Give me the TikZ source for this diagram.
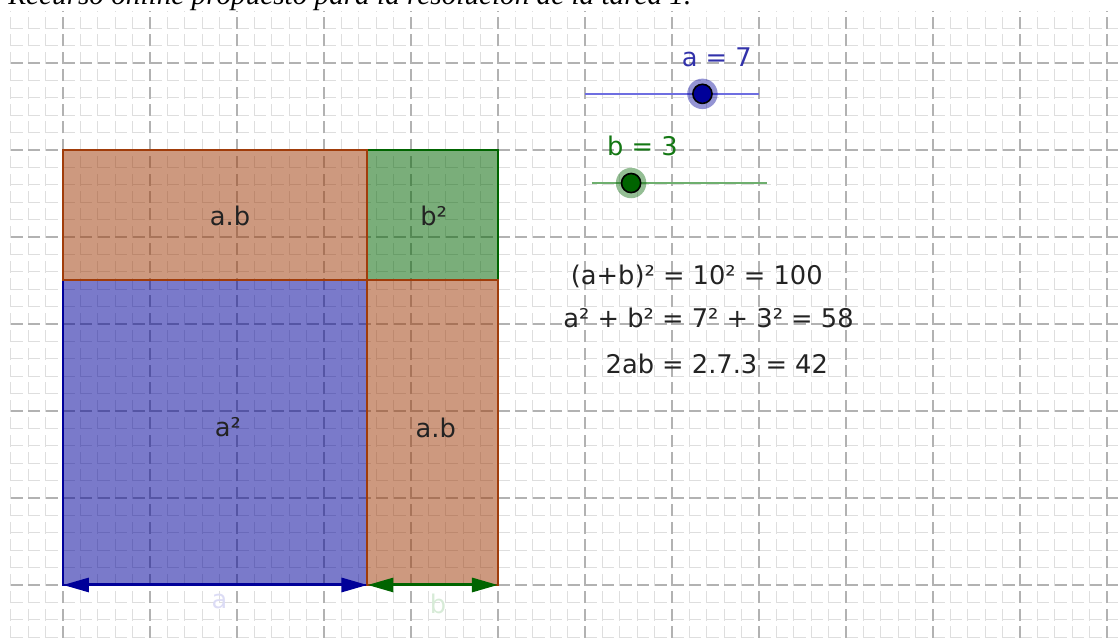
\documentclass[tikz,border=0pt]{standalone}
\usepackage{fontspec}
\setmainfont{DejaVu Sans}
\newfontfamily\capfont{Liberation Serif}
\usetikzlibrary{arrows.meta}

\definecolor{sqblue}{RGB}{0,0,153}
\definecolor{sqbrown}{RGB}{160,60,10}
\definecolor{sqgreen}{RGB}{0,100,0}
\definecolor{txtblue}{RGB}{50,50,170}
\definecolor{txtgreen}{RGB}{20,120,20}
\definecolor{txtgray}{RGB}{35,35,35}
\definecolor{slideblue}{RGB}{110,110,225}
\definecolor{slidegreen}{RGB}{110,175,110}
\definecolor{faintblue}{RGB}{220,220,245}
\definecolor{faintgreen}{RGB}{215,235,215}

\begin{document}
\begin{tikzpicture}[x=21.75pt,y=21.75pt,>={Triangle[length=13pt,width=7pt]},
  minorgrid/.style={black!13,line width=0.5pt,dash pattern=on 6pt off 2.7pt},
  majorgrid/.style={black!30,line width=0.6pt,dash pattern=on 6pt off 2.7pt},
  part/.style={line width=1pt,fill opacity=0.52},
  lbl/.style={font=\fontsize{12.85}{15}\selectfont,text=txtgray},
  knob/.style={fill=#1,draw=black,line width=0.8pt}]
  \useasboundingbox (-1.448,-1.218) rectangle (24.253,13.448);

  % grid
  \foreach \x in {-1.2,-0.8,...,24.1} \draw[minorgrid] (\x,-1.218) -- (\x,13.2);
  \foreach \y in {-1.2,-0.8,...,12.9} \draw[minorgrid] (-1.2,\y) -- (24.253,\y);
  \foreach \x in {0,2,...,24} \draw[majorgrid] (\x,-1.218) -- (\x,13.2);
  \foreach \y in {0,2,...,12} \draw[majorgrid] (-1.2,\y) -- (24.253,\y);

  \node[font=\fontsize{14.6}{17}\selectfont\capfont\itshape,anchor=base west,inner sep=0pt]
    (caption) at (-1.264,13.35) {Recurso online propuesto para la resolución de la tarea 1.};

  % the square (a+b)^2
  \coordinate (O) at (0,0);
  \coordinate (A) at (7,0);
  \coordinate (B) at (10,0);
  \draw[part,draw=sqblue,fill=sqblue] (0,0) rectangle (7,7);
  \draw[part,draw=sqgreen,fill=sqgreen] (7,7) rectangle (10,10);
  \draw[part,draw=sqbrown,fill=sqbrown] (0,7) rectangle (7,10);
  \draw[part,draw=sqbrown,fill=sqbrown] (7,0) rectangle (10,7);
  \draw[<->,line width=1.5pt,sqblue] (O) -- (A);
  \draw[<->,line width=1.5pt,sqgreen] (A) -- (B);

  \node[lbl] (abtop) at (3.84,8.48) {a.b};
  \node[lbl] (bsq) at (8.52,8.48) {b²};
  \node[lbl] (asq) at (3.79,3.62) {a²};
  \node[lbl] (abright) at (8.57,3.60) {a.b};
  \node[lbl,text=faintblue] (alen) at (3.6,-0.38) {a};
  \node[lbl,text=faintgreen] (blen) at (8.62,-0.44) {b};

  % sliders
  \coordinate (sa1) at (12.0,11.29);
  \coordinate (sa2) at (16.0,11.29);
  \coordinate (sb1) at (12.16,9.24);
  \coordinate (sb2) at (16.18,9.24);
  \draw[slideblue,line width=0.7pt] (sa1) -- (sa2);
  \draw[slidegreen,line width=0.7pt] (sb1) -- (sb2);
  \fill[sqblue,opacity=0.42] (14.70,11.29) circle (0.35);
  \draw[knob=sqblue] (14.70,11.29) circle (0.22);
  \fill[sqgreen,opacity=0.42] (13.06,9.24) circle (0.35);
  \draw[knob=sqgreen] (13.06,9.24) circle (0.22);
  \node[lbl,text=txtblue] (aval) at (15.03,12.13) {a = 7};
  \node[lbl,text=txtgreen] (bval) at (13.32,10.09) {b = 3};

  % identities
  \node[lbl] (eqsum) at (14.57,7.10) {(a+b)² = 10² = 100};
  \node[lbl] (eqsq) at (14.84,6.14) {a² + b² = 7² + 3² = 58};
  \node[lbl] (eqab) at (15.03,5.08) {2ab = 2.7.3 = 42};
\end{tikzpicture}
\end{document}
